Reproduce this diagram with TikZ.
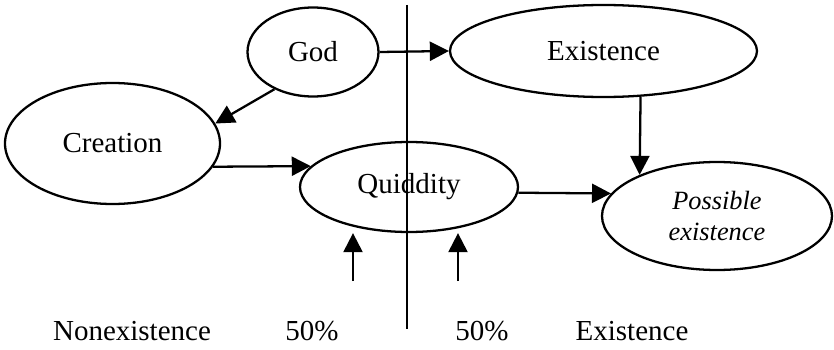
\documentclass[tikz,border=0pt]{standalone}
\usepackage{fontspec}
\setmainfont{Liberation Serif}
\usepackage{tikz}
\usetikzlibrary{positioning,arrows.meta,shapes.geometric,calc}
\tikzset{
  idea/.style={
    ellipse,
    draw=black,
    line width=1.3pt,
    inner sep=0pt,
    font=\fontsize{16.5}{19}\selectfont
  },
  arrow/.style={
    -{Triangle[length=0.38cm,width=0.38cm]},
    line width=1.3pt
  },
  label text/.style={
    anchor=base,
    font=\fontsize{16.5}{19}\selectfont
  }
}

\begin{document}
\begin{tikzpicture}
  \useasboundingbox (0,0) rectangle (16.68,6.98);

  % Concepts
  \node[idea, minimum width=2.62cm, minimum height=1.78cm] (god) at (6.26,5.94) {God};
  \node[idea, minimum width=6.14cm, minimum height=1.84cm] (exist) at (12.07,5.96) {Existence};
  \node[idea, minimum width=4.30cm, minimum height=2.42cm] (creation) at (2.25,4.11) {Creation};
  \node[idea, minimum width=4.36cm, minimum height=1.80cm] (quiddity) at (8.18,3.24) {Quiddity};
  \node[idea, minimum width=4.60cm, minimum height=2.16cm, align=center,
        font=\fontsize{15}{18}\selectfont\itshape] (possible) at (14.34,2.66) {Possible\\existence};

  % Divider
  \coordinate (top) at (8.14,6.88);
  \coordinate (bottom) at (8.14,0.40);
  \draw[line width=1.3pt] (top) -- (bottom);

  % Arrows
  \draw[arrow] (god.east) -- (exist.west);
  \draw[arrow] (god.224) -- (creation.11);
  \draw[arrow] (creation.-13) -- (quiddity.168);
  \draw[arrow] (quiddity.-3) -- (possible.168);
  \draw[arrow] (exist.-51) -- (possible.152);

  % Pointers from below
  \coordinate (lo1) at (7.06,1.36);
  \coordinate (lo2) at (9.16,1.36);
  \draw[arrow] (lo1) -- (lo1 |- quiddity.south);
  \draw[arrow] (lo2) -- (lo2 |- quiddity.south);

  % Labels
  \node[label text] (nonex) at (2.64,0.18) {Nonexistence};
  \node[label text] (pleft) at (6.24,0.18) {50\%};
  \node[label text] (pright) at (9.64,0.18) {50\%};
  \node[label text] (exlabel) at (12.64,0.18) {Existence};
\end{tikzpicture}
\end{document}
